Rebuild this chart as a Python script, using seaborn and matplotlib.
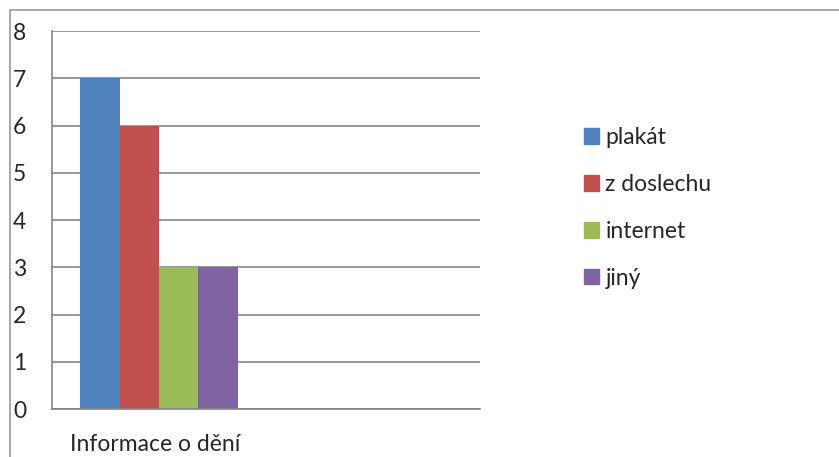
import pandas as pd
import seaborn as sns
import matplotlib.pyplot as plt
from matplotlib.patches import Rectangle

# data
kategorie = ['Informace o dění']
zdroje = ['plakát', 'z doslechu', 'internet', 'jiný']
pocty = [7, 6, 3, 3]
barvy = ['#4F81BD', '#C0504D', '#9BBB59', '#8064A2']

df = pd.DataFrame({'kategorie': kategorie * len(zdroje),
                   'zdroj': zdroje,
                   'pocet': pocty})

sns.set_style('white')
plt.rcParams['font.family'] = ['Lato', 'DejaVu Sans']

W, H = 839, 457
fig = plt.figure(figsize=(W / 100, H / 100), dpi=100)
ax = fig.add_axes([52 / W, 1 - 409 / H, (480 - 52) / W, (409 - 31) / H])

sns.barplot(data=df, x='kategorie', y='pocet', hue='zdroj',
            order=kategorie + [' '], hue_order=zdroje,
            palette=barvy, width=0.734, saturation=1, linewidth=0,
            ax=ax, legend=False)

seda = '#868686'
ax.set_xlim(-0.5, 1.5)
ax.set_ylim(0, 8)
ax.set_yticks(range(0, 9))
ax.yaxis.grid(True, color=seda, linewidth=1.2)
ax.set_axisbelow(True)
ax.set_xlabel('')
ax.set_ylabel('')
for s in ['top', 'right']:
    ax.spines[s].set_visible(False)
for s in ['left', 'bottom']:
    ax.spines[s].set_color(seda)
    ax.spines[s].set_linewidth(1.2)

ax.set_xticks([-0.5, 0.5, 1.5])
ax.set_xticklabels([])
ax.set_xticks([-0.02], minor=True)
ax.set_xticklabels(kategorie, minor=True, fontsize=16.5)
ax.tick_params(axis='x', which='major', length=6.5, color=seda, width=1.2)
ax.tick_params(axis='x', which='minor', length=0, pad=18)
ax.tick_params(axis='y', length=6.5, color=seda, width=1.2, pad=12, labelsize=16.5)

handles = [Rectangle((0, 0), 1, 1, color=c) for c in barvy]
fig.legend(handles, zdroje, loc='center left',
           bbox_to_anchor=(563 / W, 1 - 208 / H), frameon=False,
           handlelength=0.65, handleheight=0.65, handletextpad=0.3,
           labelspacing=1.13, fontsize=16.5)

fig.patches.append(Rectangle((10 / W, -0.1), 1.2, 1.1 - 10 / H,
                             transform=fig.transFigure, fill=False,
                             edgecolor='#9a9a9a', linewidth=1.2))

fig.savefig('out.png', dpi=100)
